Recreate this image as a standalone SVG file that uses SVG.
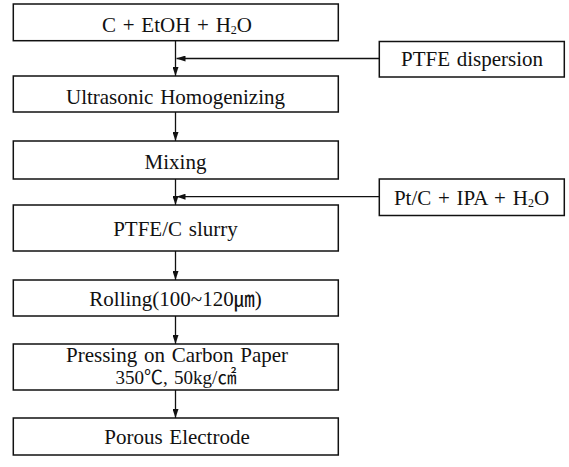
<svg xmlns="http://www.w3.org/2000/svg" width="569" height="467" viewBox="0 0 569 467">
<style>
.box{fill:#fff;stroke:#111;stroke-width:1.5}
.t{font-family:"Liberation Serif","Noto Sans CJK KR",serif;font-size:21px;word-spacing:1.5px;fill:#111;text-anchor:middle}
.c{stroke:#111;stroke-width:1.3;fill:none}
.sub{font-size:12px}
</style>
<defs>
<marker id="ah" markerWidth="9" markerHeight="6" refX="9" refY="3" orient="auto" markerUnits="userSpaceOnUse">
<path d="M0,0 L9,3 L0,6 Z" fill="#111"/>
</marker>
</defs>
<g id="connectors">
<line class="c" x1="175.5" y1="40.7" x2="175.5" y2="76" marker-end="url(#ah)"/>
<line class="c" x1="379" y1="58.5" x2="176.5" y2="58.5" marker-end="url(#ah)"/>
<line class="c" x1="175.5" y1="112" x2="175.5" y2="141" marker-end="url(#ah)"/>
<line class="c" x1="175.5" y1="179" x2="175.5" y2="205" marker-end="url(#ah)"/>
<line class="c" x1="379" y1="196.7" x2="176.5" y2="196.7" marker-end="url(#ah)"/>
<line class="c" x1="175.5" y1="251" x2="175.5" y2="280" marker-end="url(#ah)"/>
<line class="c" x1="175.5" y1="316" x2="175.5" y2="344" marker-end="url(#ah)"/>
<line class="c" x1="175.5" y1="390" x2="175.5" y2="418" marker-end="url(#ah)"/>
</g>
<g id="n1"><rect class="box" x="13.3" y="4" width="325" height="36.7"/>
<text class="t" x="177" y="32">C + EtOH + H<tspan class="sub" dy="2">2</tspan><tspan dy="-2">O</tspan></text></g>
<g id="n2"><rect class="box" x="379.3" y="41.5" width="185" height="35.5"/>
<text class="t" x="472" y="66">PTFE dispersion</text></g>
<g id="n3"><rect class="box" x="13.3" y="76" width="325" height="36"/>
<text class="t" x="175.5" y="103.5">Ultrasonic Homogenizing</text></g>
<g id="n4"><rect class="box" x="13.3" y="141" width="325" height="38"/>
<text class="t" x="175.5" y="169">Mixing</text></g>
<g id="n5"><rect class="box" x="379.3" y="179" width="185" height="36.5"/>
<text class="t" x="471.5" y="205">Pt/C + IPA + H<tspan class="sub" dy="2">2</tspan><tspan dy="-2">O</tspan></text></g>
<g id="n6"><rect class="box" x="13.3" y="205" width="325" height="46"/>
<text class="t" x="175.5" y="236">PTFE/C slurry</text></g>
<g id="n7"><rect class="box" x="13.3" y="280" width="325" height="36"/>
<text class="t" x="175.5" y="306">Rolling(100~120㎛)</text></g>
<g id="n8"><rect class="box" x="13.3" y="344" width="325" height="46"/>
<text class="t" x="177" y="362">Pressing on Carbon Paper</text>
<text class="t" x="176" y="383.5" style="font-size:19px">350℃, 50kg/㎠</text></g>
<g id="n9"><rect class="box" x="13.3" y="418" width="325" height="37"/>
<text class="t" x="177" y="444">Porous Electrode</text></g>
</svg>
